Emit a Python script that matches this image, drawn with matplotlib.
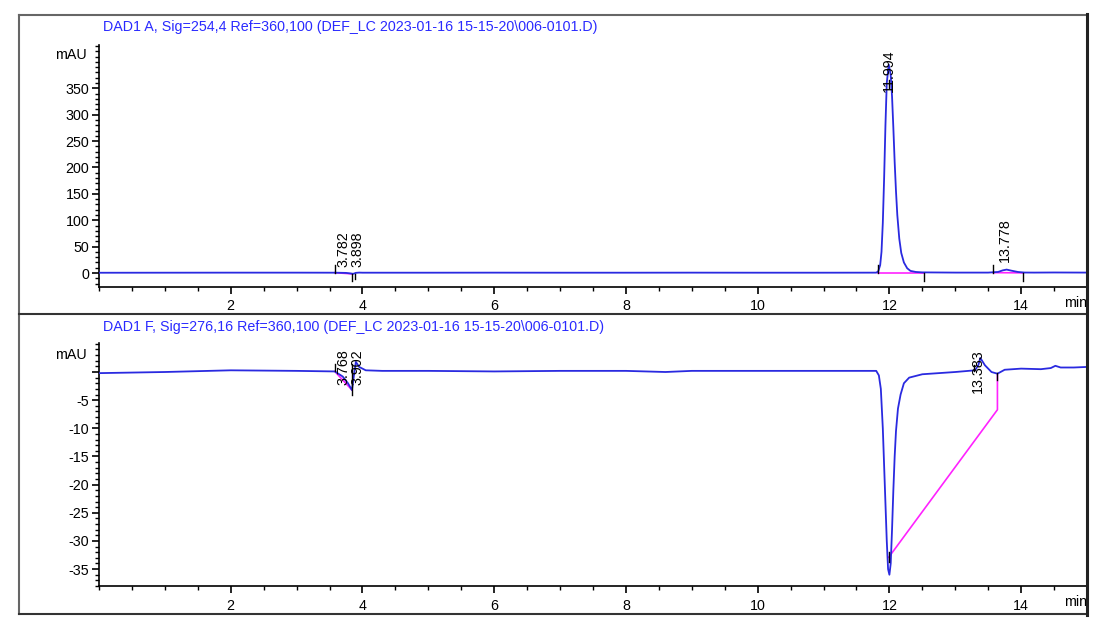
import matplotlib.pyplot as plt
from matplotlib.lines import Line2D
from matplotlib.ticker import MultipleLocator, FixedLocator

plt.rcParams['font.family'] = ['Liberation Sans', 'DejaVu Sans']

# ---------------------------------------------------------------------------
# data (time in min, signal in mAU)
# ---------------------------------------------------------------------------
title_a = r"DAD1 A, Sig=254,4 Ref=360,100 (DEF_LC 2023-01-16 15-15-20\006-0101.D)"
title_f = r"DAD1 F, Sig=276,16 Ref=360,100 (DEF_LC 2023-01-16 15-15-20\006-0101.D)"

time_a = [0.0, 1.0, 2.0, 3.0, 3.6, 3.75, 3.82, 3.86, 3.9, 3.95, 4.0, 5.0, 6.0,
          7.0, 8.0, 9.0, 10.0, 11.0, 11.8, 11.83, 11.86, 11.88, 11.9, 11.92,
          11.94, 11.96, 11.99, 12.02, 12.04, 12.06, 12.08, 12.1, 12.12, 12.15,
          12.18, 12.22, 12.27, 12.32, 12.4, 12.5, 13.0, 13.5, 13.65, 13.72,
          13.78, 13.85, 13.95, 14.05, 14.2, 14.5, 15.0]
signal_a = [0.5, 0.6, 0.7, 0.7, 0.6, 0.2, -0.8, -1.5, 0.3, 0.8, 0.6, 0.6, 0.7,
            0.6, 0.6, 0.7, 0.6, 0.6, 0.7, 3, 15, 40, 95, 180,
            280, 360, 395, 375, 335, 275, 210, 155, 110, 65,
            38, 20, 9, 4, 2, 1.2, 0.8, 0.8, 2.0, 5.0,
            6.5, 4.5, 2.0, 0.9, 0.8, 1.0, 0.8]

time_f = [0.0, 1.0, 2.0, 3.0, 3.58, 3.7, 3.78, 3.84, 3.88, 3.9, 3.95, 4.05,
          4.3, 5.0, 6.0, 7.0, 8.0, 8.6, 9.0, 10.0, 11.0, 11.8, 11.84, 11.87,
          11.9, 11.93, 11.96, 11.98, 12.0, 12.02, 12.04, 12.06, 12.08, 12.1,
          12.13, 12.17, 12.22, 12.3, 12.5, 13.0, 13.3, 13.35, 13.38, 13.45,
          13.55, 13.64, 13.75, 14.0, 14.3, 14.45, 14.52, 14.6, 14.8, 15.0]
signal_f = [-0.2, 0.0, 0.3, 0.2, 0.1, -0.8, -2.0, -3.2, 0.2, 1.8, 0.9, 0.3,
            0.2, 0.2, 0.1, 0.2, 0.2, 0.0, 0.2, 0.2, 0.2, 0.2, -0.6, -3,
            -10, -20, -30, -35, -36, -34, -28, -21, -15, -10.5,
            -6.5, -4, -2, -1.0, -0.4, 0.0, 0.3, 1.2, 2.5, 1.2,
            0.0, -0.3, 0.4, 0.6, 0.5, 0.7, 1.1, 0.8, 0.8, 0.9]

# integration baselines (magenta)
base_a = [([3.58, 3.84], [0.6, -1.6]), ([11.83, 12.53], [0.4, 0.4]),
          ([13.58, 14.03], [0.7, 0.3])]
base_f = [([3.58, 3.84], [0.1, -3.2]), ([11.99, 13.64, 13.64], [-32.9, -6.7, -0.5])]

# peak retention time labels: (x, y of label bottom, text)
labels_a = [(3.71, 11, "3.782"), (3.92, 11, "3.898"),
            (11.99, 343, "11.994"), (13.76, 21, "13.778")]
labels_f = [(3.71, -2.3, "3.768"), (3.92, -2.3, "3.902"),
            (13.35, -3.7, "13.383")]

# integration event markers: (x, y0, y1)
marks_a = [(3.58, 0.6, 16), (3.84, -1.6, -15), (3.88, -1.0, -12),
           (11.83, 0.4, 16), (11.99, 350, 365), (12.53, 0.4, -15),
           (13.58, 0.7, 16), (14.03, 0.3, -15)]
marks_f = [(3.58, 0.1, 1.4), (3.84, 1.5, -4.0), (11.99, -32.0, -33.8),
           (13.28, 0.2, 1.2), (13.64, -0.2, -1.5)]

trace_color = '#2a2ae0'
base_color = '#ff22ff'
title_color = '#2a2aff'


def style_axes(ax, xmin, xmax, ymin, ymax):
    ax.set_xlim(xmin, xmax)
    ax.set_ylim(ymin, ymax)
    ax.spines['top'].set_visible(False)
    ax.spines['right'].set_visible(False)
    ax.spines['left'].set_linewidth(1.2)
    ax.spines['bottom'].set_linewidth(1.2)
    ax.xaxis.set_major_locator(FixedLocator([2, 4, 6, 8, 10, 12, 14]))
    ax.xaxis.set_minor_locator(MultipleLocator(0.5))
    ax.tick_params(axis='both', which='major', labelsize=10.3, direction='out',
                   length=5, width=1.2, colors='black', pad=4)
    ax.tick_params(axis='both', which='minor', direction='out',
                   length=3, width=1.0)
    ax.tick_params(axis='y', which='major', length=5, pad=2)
    ax.tick_params(axis='y', which='minor', length=3)
    ax.text(1.0, -0.066, 'min', transform=ax.transAxes, ha='right',
            va='center', fontsize=10.3)


fig = plt.figure(figsize=(11.05, 6.29), dpi=100)
W, H = 1105.0, 629.0

ax1 = fig.add_axes([99 / W, 1 - 287 / H, (1087 - 99) / W, (287 - 45) / H])
ax2 = fig.add_axes([99 / W, 1 - 586 / H, (1087 - 99) / W, (586 - 343) / H])

# ---- top panel: DAD1 A ----
ax1.plot(time_a, signal_a, color=trace_color, lw=1.3, zorder=3)
for xs, ys in base_a:
    ax1.plot(xs, ys, color=base_color, lw=1.2, zorder=2)
for x, y0, y1 in marks_a:
    ax1.plot([x, x], [y0, y1], color='black', lw=1.0, zorder=4)
for x, y, s in labels_a:
    ax1.text(x, y, s, rotation=90, ha='center', va='bottom', fontsize=10.3,
             zorder=5)
style_axes(ax1, 0, 15, -26.5, 432)
ax1.yaxis.set_major_locator(FixedLocator([0, 50, 100, 150, 200, 250, 300, 350]))
ax1.yaxis.set_minor_locator(MultipleLocator(10))
ax1.text(-0.012, 413, 'mAU', transform=ax1.get_yaxis_transform(), ha='right',
         va='center', fontsize=10.3)

# ---- bottom panel: DAD1 F ----
ax2.plot(time_f, signal_f, color=trace_color, lw=1.3, zorder=3)
for xs, ys in base_f:
    ax2.plot(xs, ys, color=base_color, lw=1.2, zorder=2)
for x, y0, y1 in marks_f:
    ax2.plot([x, x], [y0, y1], color='black', lw=1.0, zorder=4)
for x, y, s in labels_f:
    ax2.text(x, y, s, rotation=90, ha='center', va='bottom', fontsize=10.3,
             zorder=5)
style_axes(ax2, 0, 15, -38.0, 5.15)
ax2.yaxis.set_major_locator(FixedLocator([0, -5, -10, -15, -20, -25, -30, -35]))
ax2.yaxis.set_minor_locator(MultipleLocator(1))
ax2.set_yticklabels(['', '-5', '-10', '-15', '-20', '-25', '-30', '-35'])
ax2.text(-0.012, 3.0, 'mAU', transform=ax2.get_yaxis_transform(), ha='right',
         va='center', fontsize=10.3)

# ---- titles ----
fig.text(103 / W, 1 - 27 / H, title_a, color=title_color, fontsize=10.3,
         ha='left', va='center')
fig.text(103 / W, 1 - 327 / H, title_f, color=title_color, fontsize=10.3,
         ha='left', va='center')

# ---- report frame ----
def fline(x0, y0, x1, y1, color='#555555', lw=1.5):
    fig.add_artist(Line2D([x0 / W, x1 / W], [1 - y0 / H, 1 - y1 / H],
                          color=color, lw=lw))

fline(19, 15, 1087, 15, color='#666666')
fline(19, 15, 19, 614, color='#666666')
fline(19, 314, 1087, 314, color='#333333')
fline(19, 614, 1087, 614, color='#333333')
fline(1087, 14, 1087, 615, color='#222222', lw=2.2)

fig.savefig('out.png', dpi=100)
